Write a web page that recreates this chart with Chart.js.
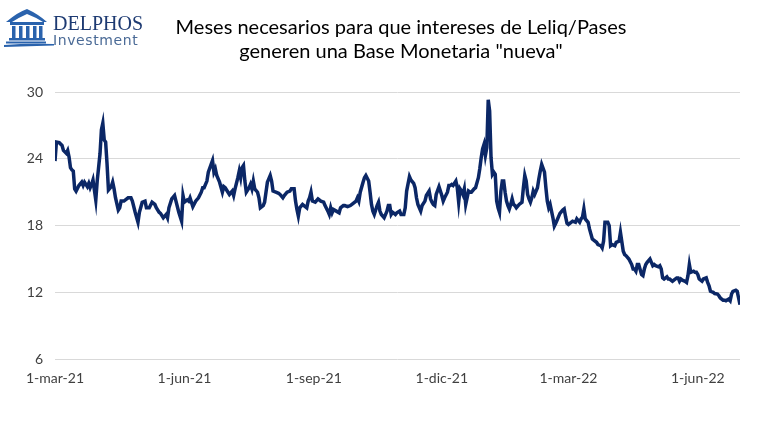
<!DOCTYPE html>
<html lang="es">
<head>
<meta charset="utf-8">
<title>Meses necesarios para que intereses de Leliq/Pases</title>
<script src="https://cdn.jsdelivr.net/npm/chart.js@4.4.1/dist/chart.umd.min.js"></script>
<style>
  html, body { margin: 0; padding: 0; background: #fff; }
  #wrap { width: 768px; height: 427px; position: relative; }
</style>
</head>
<body>
<div id="wrap"><canvas id="leliq"></canvas></div>
<script>
const tituloLineas = ['Meses necesarios para que intereses de Leliq/Pases', 'generen una Base Monetaria "nueva"']

// eje x: dias desde el 1-mar-21
const tickDias = [0, 92, 184, 275, 365, 457]
const tickLabels = ['1-mar-21', '1-jun-21', '1-sep-21', '1-dic-21', '1-mar-22', '1-jun-22']
const yTicks = [6, 12, 18, 24, 30]

const dias = [
  0, 1, 3, 5, 6, 8, 9, 10, 11, 12, 13, 14, 15, 17, 19, 20, 21, 23, 24, 25, 26, 27, 29, 30,
  32, 33, 34, 35, 36, 37, 38, 40, 41, 42, 43, 45, 46, 47, 49, 51, 52, 54, 55, 57, 59, 60,
  62, 64, 65, 67, 69, 71, 72, 74, 75, 77, 79, 80, 81, 83, 85, 86, 88, 90, 91, 92, 94, 95,
  96, 97, 98, 100, 102, 104, 105, 106, 108, 109, 111, 112, 113, 114, 115, 117, 119, 120,
  121, 123, 124, 126, 127, 128, 130, 131, 132, 133, 134, 135, 136, 138, 139, 140, 141, 142,
  144, 145, 146, 148, 149, 150, 151, 153, 154, 155, 157, 159, 160, 162, 163, 165, 167, 168,
  170, 171, 172, 173, 174, 176, 177, 179, 180, 181, 182, 183, 185, 187, 189, 191, 192, 194,
  195, 196, 197, 198, 200, 202, 203, 205, 206, 208, 210, 212, 214, 215, 216, 217, 219, 220,
  221, 223, 224, 225, 226, 227, 229, 230, 231, 232, 233, 234, 236, 237, 238, 239, 240, 242,
  243, 245, 246, 248, 249, 250, 252, 253, 255, 256, 257, 258, 260, 261, 263, 264, 266, 267,
  268, 269, 270, 271, 273, 274, 275, 276, 277, 279, 280, 281, 282, 283, 285, 286, 287, 288,
  289, 290, 291, 292, 294, 295, 296, 298, 299, 301, 302, 303, 304, 305, 306, 307, 308, 309,
  310, 311, 312, 313, 314, 315, 316, 317, 318, 319, 320, 321, 322, 323, 324, 325, 326, 327,
  328, 330, 332, 333, 334, 335, 336, 337, 338, 339, 340, 341, 343, 344, 345, 346, 348, 349,
  350, 351, 352, 354, 355, 356, 357, 358, 359, 361, 362, 363, 364, 365, 366, 368, 370, 371,
  373, 374, 375, 376, 377, 379, 380, 382, 383, 385, 386, 388, 389, 390, 391, 393, 394, 395,
  396, 398, 399, 401, 402, 404, 405, 406, 408, 410, 411, 412, 413, 414, 415, 417, 418, 419,
  420, 421, 423, 424, 425, 426, 427, 429, 430, 431, 432, 433, 435, 436, 437, 439, 440, 442,
  443, 444, 445, 446, 448, 449, 450, 451, 452, 454, 455, 456, 457, 458, 460, 461, 463, 464,
  465, 466, 468, 469, 471, 472, 473, 474, 475, 476, 477, 479, 480, 481, 482, 484, 485, 486,
  487
]

const meses = [
  23.8, 25.5, 25.45, 25.2, 24.75, 24.5, 24.75, 24.15, 23.2, 23.0, 22.9, 21.3, 21.1, 21.6, 21.9, 21.6, 21.9, 21.5, 21.8, 21.4, 21.7, 22.1, 20.3, 22.0,
  24.45, 26.6, 27.2, 25.7, 25.5, 23.55, 21.2, 21.5, 21.9, 21.3, 20.5, 19.4, 19.6, 20.2, 20.2, 20.4, 20.5, 20.5, 20.2, 19.2, 18.3, 19.2,
  20.1, 20.2, 19.6, 19.6, 20.1, 19.9, 19.6, 19.2, 19.1, 18.7, 19.0, 18.7, 19.6, 20.4, 20.7, 20.2, 19.2, 18.4, 20.7, 20.1, 20.3, 20.2,
  20.5, 20.1, 19.7, 20.2, 20.5, 21.0, 21.4, 21.4, 22.0, 22.8, 23.5, 23.85, 22.8, 23.1, 22.5, 21.9, 21.0, 21.5,
  21.4, 21.0, 20.8, 21.1, 20.7, 21.3, 22.3, 22.9, 22.3, 23.2, 23.4, 22.0, 21.0, 21.4, 21.7, 21.3, 22.0, 21.3,
  21.0, 20.5, 19.6, 19.8, 20.1, 21.0, 21.9, 22.5, 22.0, 21.1, 21.0, 20.9, 20.8, 20.5, 20.7, 21.0, 21.1, 21.3,
  21.3, 20.2, 19.45, 18.85, 19.6, 19.9, 19.8, 19.6, 20.2, 20.5, 21.0, 20.2, 20.1, 20.4, 20.2, 20.1, 19.8, 19.3,
  19.0, 19.6, 19.15, 19.45, 19.3, 19.15, 19.6, 19.8, 19.8, 19.7, 19.8, 20.0, 20.2, 20.5, 20.2, 21.0, 21.9, 22.3,
  22.5, 22.0, 21.0, 19.9, 19.3, 19.0, 19.8, 20.1, 19.3, 19.0, 18.85, 18.7, 19.3, 19.8, 19.8, 19.0, 19.2, 19.0,
  19.15, 19.3, 19.0, 19.0, 19.6, 21.1, 22.4, 22.1, 21.8, 21.4, 20.5, 19.9, 19.3, 19.8, 20.2, 20.7, 21.1, 20.4,
  20.1, 19.9, 19.8, 20.8, 21.5, 21.1, 20.7, 20.2, 20.5, 21.0, 21.6, 21.6, 21.7, 21.6, 22.0, 21.4, 20.1, 21.3,
  21.1, 20.8, 21.3, 19.9, 21.1, 21.0, 21.0, 21.3, 21.4, 22.3, 23.1, 24.1, 24.9, 25.3, 24.3, 25.0, 29.3, 28.3,
  24.1, 22.6, 22.8, 22.6, 20.2, 19.6, 19.2, 21.1, 22.0, 22.0, 21.0, 20.2, 19.8, 19.5, 19.9, 20.4, 19.9, 19.8,
  19.6, 19.9, 20.1, 21.4, 22.5, 22.0, 20.8, 20.4, 20.1, 20.5, 21.1, 20.8, 21.4, 22.2, 22.9, 23.5, 22.8, 21.4,
  20.2, 19.6, 19.9, 18.7, 17.95, 18.2, 18.5, 18.8, 19.1, 19.4, 19.5, 18.8, 18.2, 18.1, 18.2, 18.4, 18.3, 18.6,
  18.3, 18.6, 18.75, 19.5, 18.6, 18.3, 17.7, 16.8, 16.7, 16.5, 16.3, 16.2, 16.0, 16.6, 18.3, 18.3, 18.0, 16.2,
  16.3, 16.2, 16.5, 16.6, 17.4, 15.7, 15.4, 15.3, 15.0, 14.5, 14.1, 14.1, 13.9, 14.5, 14.5, 13.6, 13.5, 14.1,
  14.5, 14.7, 15.0, 14.7, 14.4, 14.5, 14.4, 14.3, 14.4, 14.1, 13.3, 13.2, 13.4, 13.2, 13.2, 13.0, 13.1, 13.3,
  13.3, 13.0, 13.2, 13.1, 13.0, 12.9, 13.5, 14.5, 13.8, 13.9, 13.8, 13.8, 13.6, 13.2, 13.0, 13.2, 13.3, 12.9,
  12.6, 12.1, 12.0, 11.9, 11.85, 11.7, 11.5, 11.4, 11.3, 11.3, 11.25, 11.4, 11.25, 11.85, 12.1, 12.2, 12.1, 11.5,
  10.9
]

// titulo y logo dibujados a mano sobre el canvas
const encabezado = {
  id: 'encabezado',
  afterDraw(chart) {
    const ctx = chart.ctx
    ctx.save()

    // icono del templo
    ctx.fillStyle = '#2a63ad'
    ctx.beginPath()
    ctx.moveTo(6, 22)
    ctx.quadraticCurveTo(18, 12, 27, 9)
    ctx.quadraticCurveTo(38, 14, 47, 22)
    ctx.lineTo(43, 22)
    ctx.quadraticCurveTo(35, 17, 27, 14)
    ctx.quadraticCurveTo(20, 17, 12, 22)
    ctx.closePath()
    ctx.fill()
    ctx.fillRect(10, 22, 34, 3)
    for (const cx of [12, 19, 26, 33, 39]) ctx.fillRect(cx, 26, 3.5, 12)
    ctx.fillRect(9, 38, 36, 2.5)
    ctx.fillRect(6, 41.5, 40, 2)
    ctx.beginPath()
    ctx.moveTo(4, 45)
    ctx.quadraticCurveTo(28, 43, 54, 44)
    ctx.lineTo(54, 45.5)
    ctx.quadraticCurveTo(28, 46, 4, 47)
    ctx.closePath()
    ctx.fill()

    ctx.textAlign = 'left'
    ctx.textBaseline = 'alphabetic'
    ctx.fillStyle = '#1d3a72'
    ctx.font = '20px "Liberation Serif"'
    ctx.fillText('DELPHOS', 53, 30)
    ctx.fillStyle = '#4a6a96'
    ctx.font = '14px "DejaVu Sans"'
    ctx.letterSpacing = '0.6px'
    ctx.fillText('Investment', 53, 45)
    ctx.letterSpacing = '0px'

    // titulo
    ctx.fillStyle = '#000'
    ctx.textAlign = 'center'
    ctx.textBaseline = 'middle'
    ctx.font = '20px Lato'
    ctx.fillText(tituloLineas[0], 401, 28)
    ctx.fillText(tituloLineas[1], 401, 52)
    ctx.restore()
  }
}

const ctxLeliq = document.getElementById('leliq').getContext('2d')

const configLeliq = {
  type: 'line',
  data: {
    datasets: [
      {
        data: dias.map((d, i) => ({ x: d, y: meses[i] })),
        borderColor: '#0b2766',
        borderWidth: 3.5,
        pointRadius: 0,
        tension: 0,
        fill: false,
      },
    ],
  },
  options: {
    responsive: true,
    maintainAspectRatio: false,
    animation: false,
    layout: {
      padding: { top: 92, left: 20, right: 28, bottom: 37 },
    },
    plugins: {
      legend: { display: false },
      tooltip: { enabled: false },
    },
    scales: {
      x: {
        type: 'linear',
        min: 0,
        max: dias[dias.length - 1],
        afterBuildTicks: scale => {
          scale.ticks = tickDias.map(v => ({ value: v }))
        },
        ticks: {
          autoSkip: false,
          maxRotation: 0,
          padding: 3,
          color: '#404040',
          font: { family: 'Lato', size: 14 },
          callback: value => tickLabels[tickDias.indexOf(value)],
        },
        grid: { display: false },
        border: { display: false },
      },
      y: {
        min: 6,
        max: 30,
        afterBuildTicks: scale => {
          scale.ticks = yTicks.map(v => ({ value: v }))
        },
        afterFit: scale => {
          scale.width = 35
        },
        ticks: {
          padding: 12,
          color: '#404040',
          font: { family: 'Lato', size: 14 },
        },
        grid: { color: '#d9d9d9', lineWidth: 1, drawTicks: false },
        border: { display: false },
      },
    },
  },
  plugins: [encabezado],
}

const leliqChart = new Chart(ctxLeliq, configLeliq)
</script>
</body>
</html>
